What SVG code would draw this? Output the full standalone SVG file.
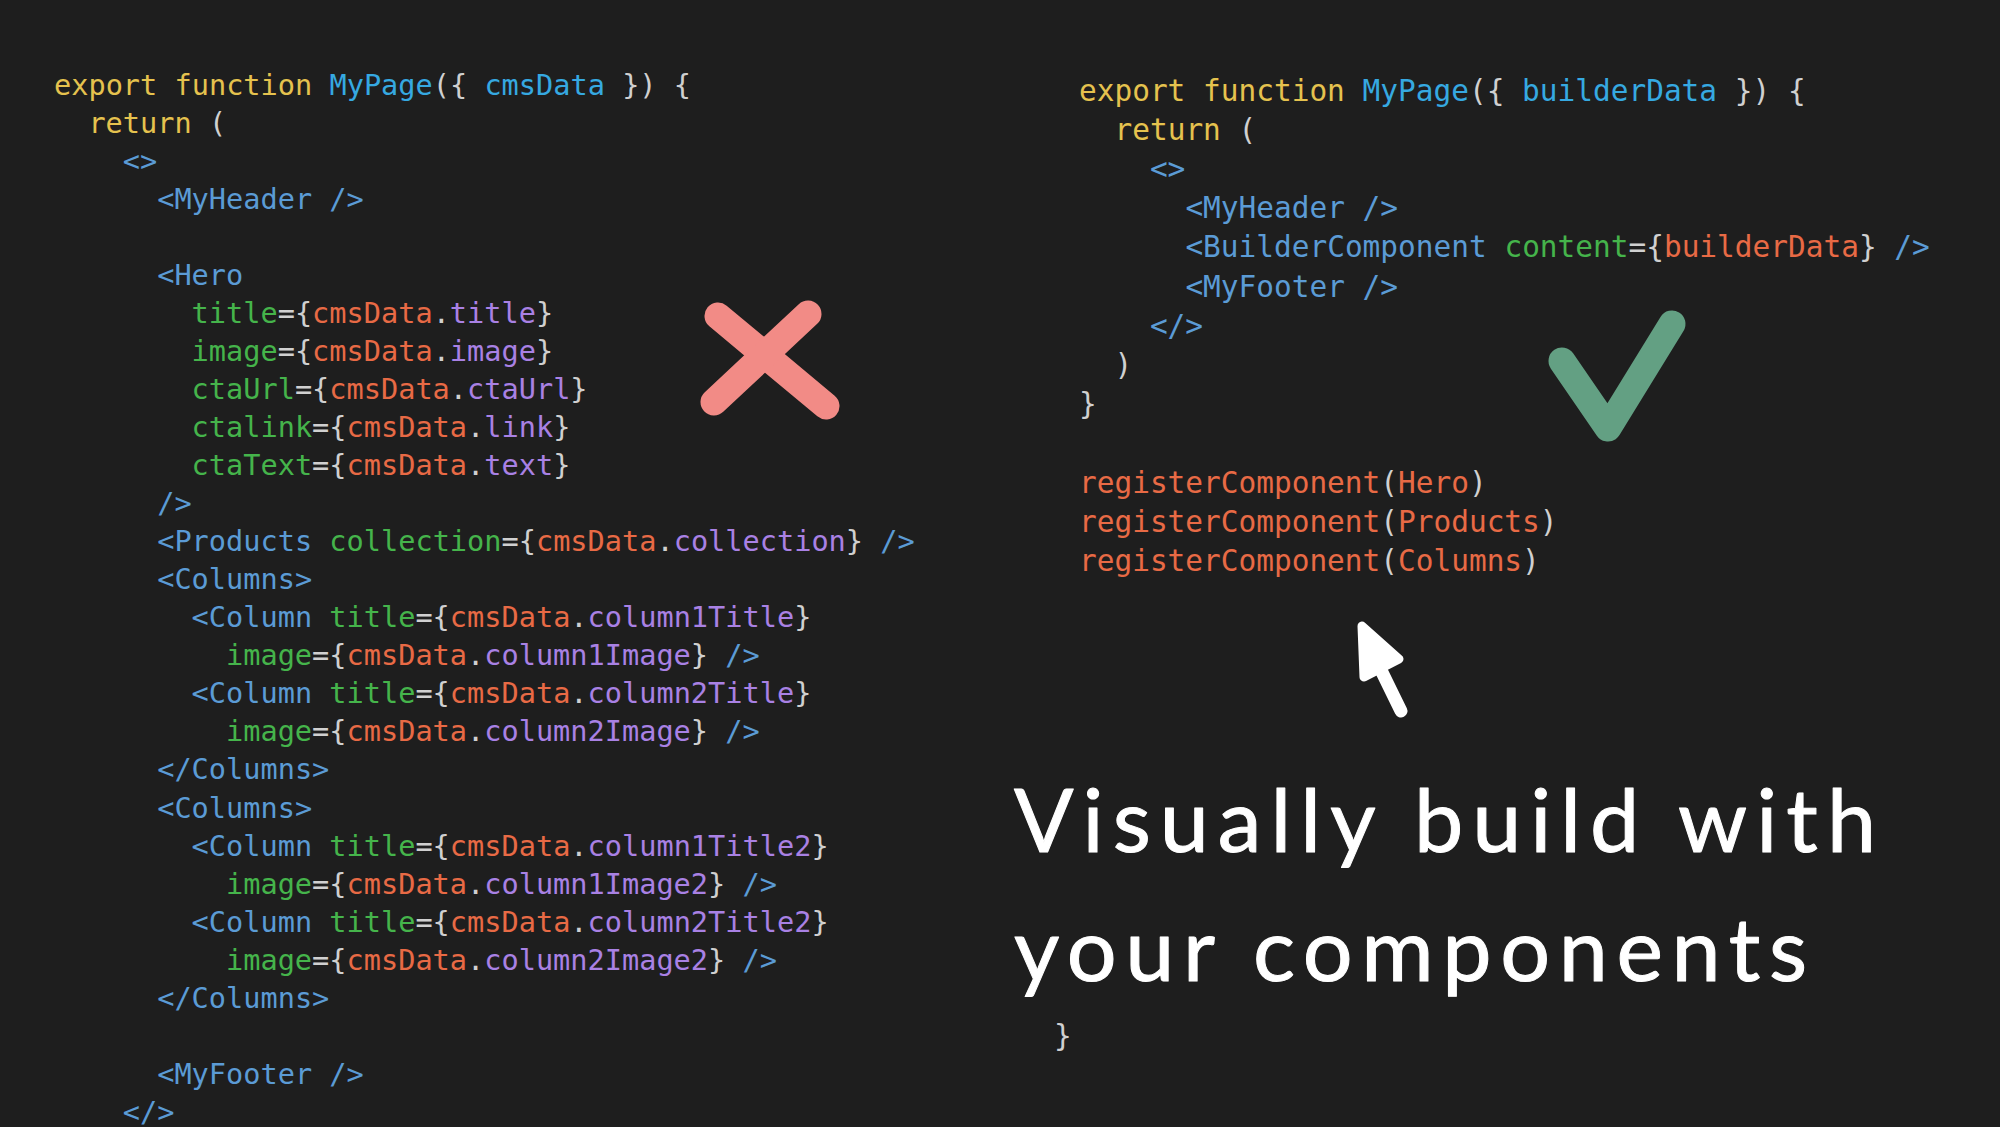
<svg xmlns="http://www.w3.org/2000/svg" width="2000" height="1127" viewBox="0 0 2000 1127">
<style>
.cl{font-family:"DejaVu Sans Mono","Liberation Mono",monospace;font-size:28.6px;}
.cr{font-family:"DejaVu Sans Mono","Liberation Mono",monospace;font-size:29.45px;}
.k{fill:#E5C24E}.f{fill:#36A9E1}.p{fill:#D0D0D0}.t{fill:#5B9BD5}.a{fill:#45B44B}.v{fill:#E86A45}.m{fill:#A981E4}
.hand{font-family:Lato,"Open Sans",sans-serif;font-size:88px;font-weight:400;fill:#FFFFFF;stroke:#FFFFFF;stroke-width:1px;stroke-linejoin:round}
</style>
<rect width="2000" height="1127" fill="#1E1E1E"/>
<g id="code-left" class="cl" xml:space="preserve">
<text x="54" y="94.5"><tspan class="k">export function </tspan><tspan class="f">MyPage</tspan><tspan class="p">({ </tspan><tspan class="f">cmsData</tspan><tspan class="p"> }) {</tspan></text>
<text x="88.4" y="132.6"><tspan class="k">return</tspan><tspan class="p"> (</tspan></text>
<text x="122.8" y="170.6" class="t">&lt;&gt;</text>
<text x="157.2" y="208.7" class="t">&lt;MyHeader /&gt;</text>
<text x="157.2" y="284.8" class="t">&lt;Hero</text>
<text x="191.6" y="322.8"><tspan class="a">title</tspan><tspan class="p">={</tspan><tspan class="v">cmsData</tspan><tspan class="p">.</tspan><tspan class="m">title</tspan><tspan class="p">}</tspan></text>
<text x="191.6" y="360.9"><tspan class="a">image</tspan><tspan class="p">={</tspan><tspan class="v">cmsData</tspan><tspan class="p">.</tspan><tspan class="m">image</tspan><tspan class="p">}</tspan></text>
<text x="191.6" y="398.9"><tspan class="a">ctaUrl</tspan><tspan class="p">={</tspan><tspan class="v">cmsData</tspan><tspan class="p">.</tspan><tspan class="m">ctaUrl</tspan><tspan class="p">}</tspan></text>
<text x="191.6" y="437.0"><tspan class="a">ctalink</tspan><tspan class="p">={</tspan><tspan class="v">cmsData</tspan><tspan class="p">.</tspan><tspan class="m">link</tspan><tspan class="p">}</tspan></text>
<text x="191.6" y="475.0"><tspan class="a">ctaText</tspan><tspan class="p">={</tspan><tspan class="v">cmsData</tspan><tspan class="p">.</tspan><tspan class="m">text</tspan><tspan class="p">}</tspan></text>
<text x="157.2" y="513.1" class="t">/&gt;</text>
<text x="157.2" y="551.1"><tspan class="t">&lt;Products </tspan><tspan class="a">collection</tspan><tspan class="p">={</tspan><tspan class="v">cmsData</tspan><tspan class="p">.</tspan><tspan class="m">collection</tspan><tspan class="p">} </tspan><tspan class="t">/&gt;</tspan></text>
<text x="157.2" y="589.2" class="t">&lt;Columns&gt;</text>
<text x="191.6" y="627.2"><tspan class="t">&lt;Column </tspan><tspan class="a">title</tspan><tspan class="p">={</tspan><tspan class="v">cmsData</tspan><tspan class="p">.</tspan><tspan class="m">column1Title</tspan><tspan class="p">}</tspan></text>
<text x="226" y="665.3"><tspan class="a">image</tspan><tspan class="p">={</tspan><tspan class="v">cmsData</tspan><tspan class="p">.</tspan><tspan class="m">column1Image</tspan><tspan class="p">} </tspan><tspan class="t">/&gt;</tspan></text>
<text x="191.6" y="703.3"><tspan class="t">&lt;Column </tspan><tspan class="a">title</tspan><tspan class="p">={</tspan><tspan class="v">cmsData</tspan><tspan class="p">.</tspan><tspan class="m">column2Title</tspan><tspan class="p">}</tspan></text>
<text x="226" y="741.4"><tspan class="a">image</tspan><tspan class="p">={</tspan><tspan class="v">cmsData</tspan><tspan class="p">.</tspan><tspan class="m">column2Image</tspan><tspan class="p">} </tspan><tspan class="t">/&gt;</tspan></text>
<text x="157.2" y="779.4" class="t">&lt;/Columns&gt;</text>
<text x="157.2" y="817.5" class="t">&lt;Columns&gt;</text>
<text x="191.6" y="855.6"><tspan class="t">&lt;Column </tspan><tspan class="a">title</tspan><tspan class="p">={</tspan><tspan class="v">cmsData</tspan><tspan class="p">.</tspan><tspan class="m">column1Title2</tspan><tspan class="p">}</tspan></text>
<text x="226" y="893.6"><tspan class="a">image</tspan><tspan class="p">={</tspan><tspan class="v">cmsData</tspan><tspan class="p">.</tspan><tspan class="m">column1Image2</tspan><tspan class="p">} </tspan><tspan class="t">/&gt;</tspan></text>
<text x="191.6" y="931.7"><tspan class="t">&lt;Column </tspan><tspan class="a">title</tspan><tspan class="p">={</tspan><tspan class="v">cmsData</tspan><tspan class="p">.</tspan><tspan class="m">column2Title2</tspan><tspan class="p">}</tspan></text>
<text x="226" y="969.7"><tspan class="a">image</tspan><tspan class="p">={</tspan><tspan class="v">cmsData</tspan><tspan class="p">.</tspan><tspan class="m">column2Image2</tspan><tspan class="p">} </tspan><tspan class="t">/&gt;</tspan></text>
<text x="157.2" y="1007.8" class="t">&lt;/Columns&gt;</text>
<text x="157.2" y="1083.9" class="t">&lt;MyFooter /&gt;</text>
<text x="122.8" y="1121.9" class="t">&lt;/&gt;</text>
</g>
<g id="code-right" class="cr" xml:space="preserve">
<text x="1079" y="100.5"><tspan class="k">export function </tspan><tspan class="f">MyPage</tspan><tspan class="p">({ </tspan><tspan class="f">builderData</tspan><tspan class="p"> }) {</tspan></text>
<text x="1114.5" y="139.7"><tspan class="k">return</tspan><tspan class="p"> (</tspan></text>
<text x="1149.9" y="178.9" class="t">&lt;&gt;</text>
<text x="1185.4" y="218.1" class="t">&lt;MyHeader /&gt;</text>
<text x="1185.4" y="257.3"><tspan class="t">&lt;BuilderComponent </tspan><tspan class="a">content</tspan><tspan class="p">={</tspan><tspan class="v">builderData</tspan><tspan class="p">} </tspan><tspan class="t">/&gt;</tspan></text>
<text x="1185.4" y="296.5" class="t">&lt;MyFooter /&gt;</text>
<text x="1149.9" y="335.7" class="t">&lt;/&gt;</text>
<text x="1114.5" y="374.9" class="p">)</text>
<text x="1079" y="414.1" class="p">}</text>
<text x="1079" y="492.5"><tspan class="v">registerComponent</tspan><tspan class="p">(</tspan><tspan class="v">Hero</tspan><tspan class="p">)</tspan></text>
<text x="1079" y="531.7"><tspan class="v">registerComponent</tspan><tspan class="p">(</tspan><tspan class="v">Products</tspan><tspan class="p">)</tspan></text>
<text x="1079" y="570.9"><tspan class="v">registerComponent</tspan><tspan class="p">(</tspan><tspan class="v">Columns</tspan><tspan class="p">)</tspan></text>
<text x="1054" y="1046" class="p">}</text>
</g>
<g id="cross-mark" fill="none" stroke="#F28B86" stroke-width="27" stroke-linecap="round">
<path d="M718 316 L826 406"/>
<path d="M808 314 L714 402"/>
</g>
<g id="check-mark" fill="none" stroke="#63A083" stroke-width="27" stroke-linecap="round" stroke-linejoin="round">
<path d="M1562 361 L1608 428 L1672 324"/>
</g>
<g id="connectors">
<path d="M1362 626 L1364 677 L1399 659 Z" fill="#FFFFFF" stroke="#FFFFFF" stroke-width="9" stroke-linejoin="round"/>
<path d="M1378 664 L1401 711" fill="none" stroke="#FFFFFF" stroke-width="13" stroke-linecap="round"/>
</g>
<g id="caption" class="hand">
<text x="1014" y="852" textLength="862" lengthAdjust="spacing">Visually build with</text>
<text x="1014" y="981" textLength="793" lengthAdjust="spacing">your components</text>
</g>
</svg>
